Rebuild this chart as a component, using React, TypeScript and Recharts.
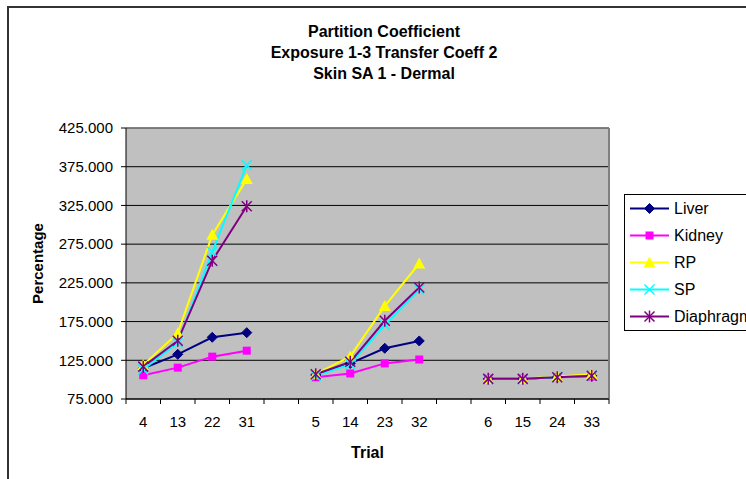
import React from "react";
import {
  LineChart,
  Line,
  XAxis,
  YAxis,
  CartesianGrid,
  Legend,
  ReferenceLine,
} from "recharts";

// trial order as shown on the axis, blanks separate the three exposure groups
const trials = ["4", "13", "22", "31", "", "5", "14", "23", "32", "", "6", "15", "24", "33"];

const liver = [114.7, 132.7, 154.7, 160.7, null, 106, 121, 140.5, 150, null, 101, 101, 103, 105];
const kidney = [105.6, 115.5, 129.7, 137.4, null, 103, 108, 121, 126, null, 101, 101, 103, 104];
const rp = [119, 160, 287, 359, null, 107, 130, 195, 250, null, 101, 101, 104, 107];
const sp = [113.3, 147.7, 265, 377, null, 105, 120, 170.6, 216, null, 101, 101, 103, 105];
const diaphragm = [116.8, 150.3, 253.6, 324, null, 107, 123, 176, 219, null, 101, 101, 103, 105];

const seriesNames = ["Liver", "Kidney", "RP", "SP", "Diaphragm"];

const yTicks = [75, 125, 175, 225, 275, 325, 375, 425];

const data = trials.map((trial, i) => ({
  pos: i + 0.5,
  trial,
  Liver: liver[i],
  Kidney: kidney[i],
  RP: rp[i],
  SP: sp[i],
  Diaphragm: diaphragm[i],
}));

const boundaryTicks = [...trials.map((_, i) => i), trials.length];
const centerTicks = trials.map((_, i) => i + 0.5);

const seriesStyle: Record<string, { color: string; shape: string }> = {
  Liver: { color: "#000080", shape: "diamond" },
  Kidney: { color: "#FF00FF", shape: "square" },
  RP: { color: "#FFFF00", shape: "triangle" },
  SP: { color: "#00FFFF", shape: "x" },
  Diaphragm: { color: "#800080", shape: "star" },
};

const FONT = '"Liberation Sans", Arial, sans-serif';

function Marker({ shape, cx, cy, color }: { shape: string; cx: number; cy: number; color: string }) {
  switch (shape) {
    case "diamond":
      return (
        <polygon
          points={`${cx},${cy - 5} ${cx + 5},${cy} ${cx},${cy + 5} ${cx - 5},${cy}`}
          fill={color}
          stroke={color}
        />
      );
    case "square":
      return <rect x={cx - 4} y={cy - 4} width={8} height={8} fill={color} />;
    case "triangle":
      return (
        <polygon
          points={`${cx},${cy - 6} ${cx + 6},${cy + 5} ${cx - 6},${cy + 5}`}
          fill={color}
        />
      );
    case "x":
      return (
        <g stroke={color} strokeWidth={1.5}>
          <line x1={cx - 5} y1={cy - 5} x2={cx + 5} y2={cy + 5} />
          <line x1={cx - 5} y1={cy + 5} x2={cx + 5} y2={cy - 5} />
        </g>
      );
    default:
      return (
        <g stroke={color} strokeWidth={1.5}>
          <line x1={cx - 5} y1={cy - 5} x2={cx + 5} y2={cy + 5} />
          <line x1={cx - 5} y1={cy + 5} x2={cx + 5} y2={cy - 5} />
          <line x1={cx} y1={cy - 6} x2={cx} y2={cy + 6} />
        </g>
      );
  }
}

function makeDot(name: string) {
  const { color, shape } = seriesStyle[name];
  return (props: any) => {
    const { cx, cy, index } = props;
    if (cx == null || cy == null || props.value == null) return <g key={`${name}-${index}`} />;
    return (
      <g key={`${name}-${index}`}>
        <Marker shape={shape} cx={cx} cy={cy} color={color} />
      </g>
    );
  };
}

function LegendBox({ payload }: any) {
  const items = [...(payload || [])].sort(
    (a: any, b: any) => seriesNames.indexOf(a.value) - seriesNames.indexOf(b.value)
  );
  return (
    <div
      style={{
        border: "1px solid #000",
        background: "#fff",
        fontFamily: FONT,
        fontSize: 16,
        width: 200,
      }}
    >
      {items.map((item: any) => {
        const name = item.value;
        const st = seriesStyle[name];
        return (
          <div key={name} style={{ height: 27, display: "flex", alignItems: "center" }}>
            <svg width={49} height={27} style={{ flex: "none" }}>
              <line x1={5} y1={13.5} x2={44} y2={13.5} stroke={st.color} strokeWidth={2} />
              <Marker shape={st.shape} cx={24.5} cy={13.5} color={st.color} />
            </svg>
            <span style={{ color: "#000", whiteSpace: "nowrap" }}>{name}</span>
          </div>
        );
      })}
    </div>
  );
}

export default function App() {
  return (
    <div
      style={{
        position: "absolute",
        left: 0,
        top: 0,
        width: 746,
        height: 479,
        overflow: "hidden",
        background: "#fff",
        fontFamily: FONT,
      }}
    >
      <div
        style={{
          position: "absolute",
          left: 7,
          top: 6,
          width: 900,
          height: 700,
          border: "2px solid #333",
        }}
      />
      <div
        style={{
          position: "absolute",
          left: 0,
          top: 21,
          width: 768,
          textAlign: "center",
          fontWeight: "bold",
          fontSize: 16,
          lineHeight: "21px",
          color: "#000",
        }}
      >
        <div>Partition Coefficient</div>
        <div>Exposure 1-3 Transfer Coeff 2</div>
        <div>Skin SA 1 - Dermal</div>
      </div>
      <div style={{ position: "absolute", left: 0, top: 0 }}>
        <LineChart
          width={746}
          height={479}
          data={data}
          margin={{ top: 128, right: 137, bottom: 35, left: 0 }}
        >
          <CartesianGrid
            xAxisId="a"
            vertical={false}
            fill="#C0C0C0"
            fillOpacity={1}
            stroke="#000"
            strokeWidth={1}
          />
          <XAxis
            xAxisId="a"
            dataKey="pos"
            type="number"
            domain={[0, trials.length]}
            ticks={boundaryTicks}
            interval={0}
            tickFormatter={() => ""}
            tickSize={5}
            height={5}
            axisLine={{ stroke: "#000" }}
            tickLine={{ stroke: "#000" }}
          />
          <XAxis
            xAxisId="b"
            dataKey="pos"
            type="number"
            domain={[0, trials.length]}
            ticks={centerTicks}
            interval={0}
            tickFormatter={(v: number) => trials[Math.floor(v)]}
            tickSize={0}
            tickMargin={12}
            height={40}
            axisLine={false}
            tickLine={false}
            tick={{ fill: "#000", fontSize: 15, fontFamily: FONT }}
            label={{
              value: "Trial",
              position: "bottom",
              offset: 3,
              style: { fontWeight: "bold", fontSize: 16, fill: "#000", fontFamily: FONT },
            }}
          />
          <YAxis
            width={126}
            type="number"
            domain={[75, 425]}
            ticks={yTicks}
            interval={0}
            tickFormatter={(v: number) => v.toFixed(3)}
            tickSize={5}
            tickMargin={8}
            axisLine={{ stroke: "#000" }}
            tickLine={{ stroke: "#000" }}
            tick={{ fill: "#000", fontSize: 15, fontFamily: FONT }}
            label={{
              value: "Percentage",
              angle: -90,
              position: "insideLeft",
              offset: 38,
              style: {
                textAnchor: "middle",
                fontWeight: "bold",
                fontSize: 15,
                fill: "#000",
                fontFamily: FONT,
              },
            }}
          />
          <ReferenceLine xAxisId="a" y={425} stroke="#808080" strokeWidth={1.5} />
          <ReferenceLine xAxisId="a" x={trials.length} stroke="#808080" strokeWidth={2} />
          {seriesNames.map((name) => (
            <Line
              key={name}
              xAxisId="a"
              type="linear"
              dataKey={name}
              name={name}
              stroke={seriesStyle[name].color}
              strokeWidth={2}
              dot={makeDot(name)}
              activeDot={false}
              isAnimationActive={false}
            />
          ))}
          <Legend
            layout="vertical"
            align="center"
            verticalAlign="middle"
            wrapperStyle={{ left: 624, top: 194, width: 200, right: "auto", bottom: "auto" }}
            content={(props: any) => <LegendBox payload={props.payload} />}
          />
        </LineChart>
      </div>
    </div>
  );
}
